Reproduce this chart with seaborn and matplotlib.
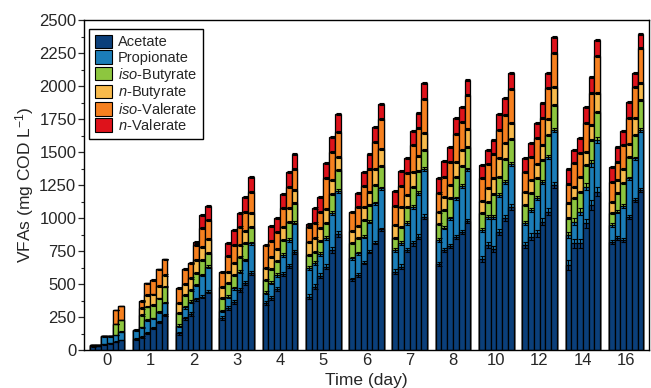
import numpy as np
import pandas as pd
import matplotlib
matplotlib.use("Agg")
import matplotlib.pyplot as plt
from matplotlib.patches import Patch
from matplotlib.ticker import MultipleLocator
import seaborn as sns

# ---------------- data (mg COD/L), 6 replicate bars per time point ----------------
times = ["0", "1", "2", "3", "4", "5", "6", "7", "8", "10", "12", "14", "16"]
reps = ["r1", "r2", "r3", "r4", "r5", "r6"]

acetate = [
    [28, 30, 43, 50, 63, 76],
    [83, 101, 131, 164, 214, 265],
    [126, 240, 273, 384, 404, 442],
    [240, 316, 366, 455, 510, 581],
    [359, 391, 462, 576, 639, 745],
    [404, 480, 563, 631, 758, 879],
    [535, 568, 662, 745, 813, 914],
    [593, 631, 758, 808, 859, 1010],
    [652, 758, 790, 859, 896, 980],
    [687, 795, 763, 896, 997, 1086],
    [795, 859, 884, 972, 1048, 1250],
    [644, 808, 808, 960, 1098, 1199],
    [820, 846, 833, 1005, 1136, 1212],
]
propionate = [
    [7, 5, 61, 54, 51, 63],
    [69, 71, 96, 76, 76, 94],
    [58, 83, 93, 108, 164, 189],
    [55, 88, 101, 138, 172, 227],
    [75, 119, 106, 144, 194, 220],
    [215, 177, 164, 215, 278, 328],
    [159, 164, 197, 227, 298, 311],
    [165, 182, 202, 278, 333, 359],
    [181, 169, 207, 290, 346, 389],
    [222, 215, 247, 278, 278, 323],
    [170, 202, 265, 303, 417, 417],
    [227, 164, 240, 277, 316, 392],
    [127, 202, 258, 296, 316, 455],
]
iso_butyrate = [
    [0, 0, 0, 0, 81, 88],
    [0, 93, 101, 101, 101, 121],
    [94, 94, 89, 94, 114, 106],
    [96, 106, 101, 114, 126, 126],
    [96, 101, 109, 113, 139, 146],
    [101, 88, 101, 119, 144, 157],
    [114, 114, 126, 126, 139, 169],
    [88, 122, 126, 151, 164, 146],
    [122, 134, 152, 164, 152, 171],
    [127, 114, 170, 139, 170, 187],
    [133, 126, 152, 164, 164, 189],
    [126, 177, 151, 165, 177, 214],
    [89, 139, 172, 164, 177, 227],
]
n_butyrate = [
    [0, 0, 0, 0, 0, 0],
    [0, 51, 89, 81, 96, 88],
    [81, 83, 88, 96, 96, 104],
    [84, 83, 89, 88, 94, 102],
    [89, 96, 86, 96, 101, 101],
    [100, 101, 94, 101, 108, 101],
    [94, 93, 101, 101, 119, 129],
    [101, 151, 88, 109, 114, 127],
    [93, 96, 101, 114, 121, 134],
    [95, 101, 121, 139, 121, 121],
    [97, 101, 108, 114, 119, 139],
    [114, 88, 114, 101, 114, 140],
    [88, 101, 106, 96, 126, 126],
]
iso_valerate = [
    [0, 0, 0, 0, 105, 104],
    [0, 55, 88, 108, 124, 119],
    [108, 114, 114, 114, 144, 144],
    [113, 119, 138, 139, 146, 163],
    [176, 121, 133, 144, 160, 157],
    [114, 119, 126, 235, 215, 189],
    [146, 147, 156, 172, 209, 225],
    [144, 156, 165, 207, 210, 257],
    [144, 156, 177, 209, 215, 258],
    [170, 184, 184, 215, 214, 258],
    [156, 177, 195, 202, 235, 257],
    [147, 177, 182, 219, 240, 282],
    [151, 139, 184, 194, 240, 266],
]
n_valerate = [
    [0, 0, 0, 0, 0, 0],
    [0, 0, 0, 0, 0, 0],
    [0, 0, 0, 20, 101, 108],
    [0, 101, 114, 106, 109, 114],
    [0, 111, 101, 109, 113, 116],
    [21, 108, 114, 113, 113, 131],
    [0, 106, 104, 111, 109, 116],
    [114, 114, 113, 109, 118, 121],
    [114, 119, 109, 119, 113, 113],
    [101, 106, 106, 118, 127, 121],
    [101, 101, 113, 119, 118, 117],
    [111, 101, 109, 116, 121, 122],
    [114, 113, 109, 126, 106, 108],
]

# approximate standard deviations per component and time point (read from caps)
err_acetate = [3, 8, 12, 15, 15, 20, 12, 18, 15, 22, 25, 35, 15]
err_propionate = [3, 6, 10, 10, 12, 15, 12, 15, 12, 15, 15, 25, 12]
err_other = [0, 6, 8, 8, 8, 8, 8, 8, 8, 8, 8, 8, 8]

components = ["Acetate", "Propionate", "iso-Butyrate", "n-Butyrate", "iso-Valerate", "n-Valerate"]
labels = ["Acetate", "Propionate", r"$\it{iso}$-Butyrate", r"$\it{n}$-Butyrate",
          r"$\it{iso}$-Valerate", r"$\it{n}$-Valerate"]
colors = ["#0B3F7A", "#1B7DB8", "#8DC63F", "#F8BA4B", "#F6801F", "#DE121B"]
series = [acetate, propionate, iso_butyrate, n_butyrate, iso_valerate, n_valerate]
errors = [err_acetate, err_propionate, err_other, err_other, err_other, err_other]

# long-format table with cumulative stack tops
rows = []
for gi, t in enumerate(times):
    for ri, r in enumerate(reps):
        row = {"time": t, "rep": r}
        for name, s, e in zip(components, series, errors):
            row[name] = s[gi][ri]
            row["err_" + name] = e[gi] if s[gi][ri] > 0 else 0
        rows.append(row)
df = pd.DataFrame(rows)
cum = df[components].cumsum(axis=1)
for name in components:
    df["cum_" + name] = cum[name]

# ---------------- plotting ----------------
sns.set_style("ticks")
plt.rcParams["font.family"] = ["Liberation Sans", "DejaVu Sans"]
plt.rcParams["mathtext.fontset"] = "custom"
plt.rcParams["mathtext.rm"] = "Liberation Sans"
plt.rcParams["mathtext.it"] = "Liberation Sans:italic"

fig = plt.figure(figsize=(6.51, 3.88), dpi=100)
ax = fig.add_axes([84 / 651, 1 - 350 / 388, (649 - 84) / 651, (350 - 20) / 388])

# draw from top layer down so lower layers overlay upper ones
layer_patches = {}
for name, col in reversed(list(zip(components, colors))):
    n0 = len(ax.patches)
    sns.barplot(data=df, x="time", y="cum_" + name, hue="rep", order=times,
                hue_order=reps, palette={r: col for r in reps}, width=0.8,
                saturation=1, errorbar=None, legend=False, edgecolor="black",
                linewidth=0.9, ax=ax)
    layer_patches[name] = ax.patches[n0:]

# error bars at the top of each segment, positioned from the drawn bars
order_map = {**{t: i for i, t in enumerate(times)}, **{r: i for i, r in enumerate(reps)}}
sub = df.sort_values(["rep", "time"], key=lambda c: c.map(order_map))
for name in components:
    pts = layer_patches[name]
    xs = [p.get_x() + p.get_width() / 2 for p in pts]
    tops = [p.get_height() for p in pts]
    errs = sub["err_" + name].to_numpy()
    ax.errorbar(xs, tops, yerr=errs, fmt="none", ecolor="black",
                elinewidth=0.8, capsize=1.8, capthick=0.8, zorder=5)

ax.set_xlim(-0.53, 12.53)
ax.set_ylim(0, 2500)
ax.yaxis.set_major_locator(MultipleLocator(250))
ax.yaxis.set_minor_locator(MultipleLocator(125))
ax.tick_params(axis="y", which="major", direction="out", length=4, width=0.9,
               labelsize=12, pad=1.5)
ax.tick_params(axis="y", which="minor", direction="out", length=2.5, width=0.8)
ax.tick_params(axis="x", length=0, labelsize=12, pad=2)
for sp in ax.spines.values():
    sp.set_visible(True)
    sp.set_linewidth(1.0)
    sp.set_color("black")

ax.set_xlabel("Time (day)", fontsize=12.5, labelpad=3.5)
ax.set_ylabel(r"VFAs (mg COD L$^{-1}$)", fontsize=12.5, labelpad=2)

handles = [Patch(facecolor=c, edgecolor="black", linewidth=0.8) for c in colors]
leg = ax.legend(handles, labels, loc="upper left", bbox_to_anchor=(0.009, 0.973),
                fontsize=10.5, frameon=True, fancybox=False, framealpha=1,
                edgecolor="black", handlelength=1.15, handleheight=1.05,
                handletextpad=0.4, labelspacing=0.05, borderpad=0.4,
                borderaxespad=0.0)
leg.get_frame().set_linewidth(1.0)

fig.savefig("out.png", dpi=100)
